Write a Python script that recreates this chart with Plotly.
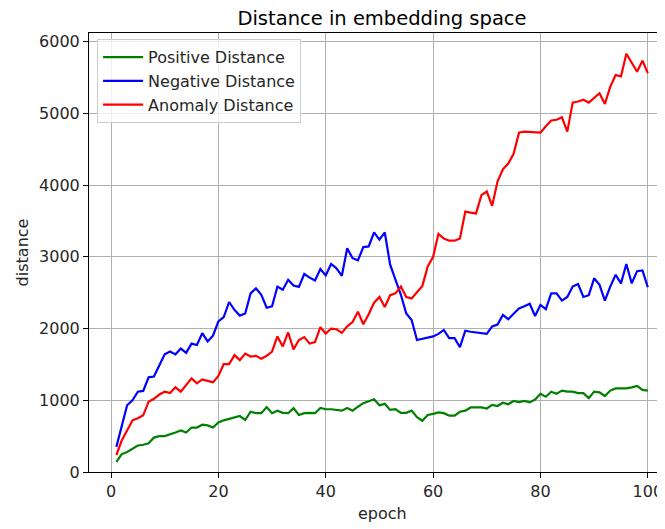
import plotly.graph_objects as go

epochs = list(range(1, 101))

positive = [140, 250, 280, 320, 370, 380, 400, 480, 500, 500,
            520, 550, 580, 550, 620, 620, 660, 650, 620, 690,
            720, 740, 770, 780, 725, 840, 820, 820, 905, 820,
            855, 825, 820, 890, 795, 820, 825, 820, 893, 875,
            875, 865, 855, 893, 855, 910, 960, 985, 1014, 930,
            950, 865, 875, 825, 825, 855, 765, 715, 795, 810,
            830, 820, 785, 785, 840, 855, 900, 900, 900, 885,
            935, 920, 965, 945, 990, 975, 990, 970, 1010, 1090,
            1050, 1120, 1090, 1135, 1120, 1120, 1100, 1100, 1030, 1120,
            1110, 1060, 1135, 1165, 1165, 1165, 1180, 1200, 1145, 1135]

negative = [350, 640, 930, 1000, 1120, 1130, 1320, 1330, 1480, 1640,
            1680, 1640, 1720, 1660, 1790, 1770, 1935, 1820, 1900, 2100,
            2160, 2370, 2260, 2180, 2210, 2490, 2560, 2470, 2290, 2310,
            2585, 2540, 2680, 2600, 2580, 2760, 2710, 2670, 2830, 2740,
            2900, 2840, 2735, 3120, 2980, 2950, 3135, 3145, 3340, 3240,
            3340, 2890, 2680, 2470, 2210, 2120, 1840, 1860, 1870, 1890,
            1925, 1980, 1865, 1865, 1740, 1970, 1955, 1945, 1935, 1925,
            2030, 2055, 2190, 2130, 2205, 2280, 2310, 2345, 2175, 2330,
            2270, 2490, 2490, 2390, 2440, 2585, 2620, 2440, 2465, 2700,
            2610, 2390, 2585, 2750, 2630, 2900, 2630, 2800, 2810, 2575]

anomaly = [237, 440, 580, 720, 750, 790, 980, 1020, 1080, 1120,
           1100, 1180, 1120, 1220, 1305, 1235, 1290, 1270, 1250, 1340,
           1505, 1505, 1630, 1560, 1650, 1610, 1620, 1580, 1620, 1680,
           1890, 1750, 1945, 1710, 1840, 1880, 1790, 1810, 2020, 1930,
           2000, 1990, 1940, 2030, 2090, 2235, 2060, 2200, 2360, 2440,
           2300, 2465, 2490, 2585, 2440, 2420, 2500, 2595, 2865, 3000,
           3320, 3255, 3225, 3225, 3255, 3630, 3615, 3605, 3860, 3910,
           3710, 4050, 4220, 4300, 4435, 4730, 4745, 4740, 4735, 4730,
           4820, 4900, 4910, 4945, 4745, 5150, 5165, 5190, 5150, 5210,
           5280, 5130, 5370, 5535, 5515, 5830, 5700, 5580, 5735, 5560]

x_ticks = [0, 20, 40, 60, 80, 100]
y_ticks = [0, 1000, 2000, 3000, 4000, 5000, 6000]

FONT = "DejaVu Sans"

fig = go.Figure()
for name, vals, col in [("Positive Distance", positive, "#008000"),
                        ("Negative Distance", negative, "#0000ff"),
                        ("Anomaly Distance", anomaly, "#ff0000")]:
    fig.add_trace(go.Scatter(x=epochs, y=vals, mode="lines", name=name,
                             line=dict(color=col, width=2.2)))

# page has an 8px body margin: figure drawn at (8, 8)
fig.update_layout(
    width=657, height=521,
    margin=dict(l=81, r=0, t=25, b=57),
    paper_bgcolor="white", plot_bgcolor="white",
    font=dict(family=FONT, size=16, color="#262626"),
    title=dict(text="Distance in embedding space", x=374 / 657, xref="container",
               xanchor="center", y=1 - 3 / 521, yref="container", yanchor="top",
               pad=dict(t=0, b=0, l=0, r=0),
               font=dict(size=19.5, color="black")),
    legend=dict(x=0.014, y=0.986, xanchor="left", yanchor="top",
                bgcolor="rgba(255,255,255,0.8)", bordercolor="#cccccc",
                borderwidth=1, font=dict(size=16, color="#262626"),
                tracegroupgap=0, itemwidth=40),
    showlegend=True,
    annotations=[dict(text="epoch", xref="paper", yref="paper",
                      x=(374 - 81) / 576, y=-(505 - 464) / 439,
                      xanchor="center", yanchor="middle", showarrow=False,
                      font=dict(size=16, color="#262626"))],
)

fig.update_xaxes(range=[-4.1, 103.2], tickvals=x_ticks, ticks="outside",
                 ticklen=5, tickwidth=1, tickcolor="black",
                 showline=True, linecolor="black", linewidth=1, mirror=True,
                 showgrid=True, gridcolor="#b0b0b0", gridwidth=1,
                 zeroline=False)
fig.update_yaxes(range=[0, 6120], tickvals=y_ticks, ticks="outside",
                 ticklen=5, tickwidth=1, tickcolor="black",
                 showline=True, linecolor="black", linewidth=1, mirror=False,
                 showgrid=True, gridcolor="#b0b0b0", gridwidth=1,
                 zeroline=False,
                 title=dict(text="distance", standoff=6, font=dict(size=16, color="#262626")))

fig.write_html("out.html")
